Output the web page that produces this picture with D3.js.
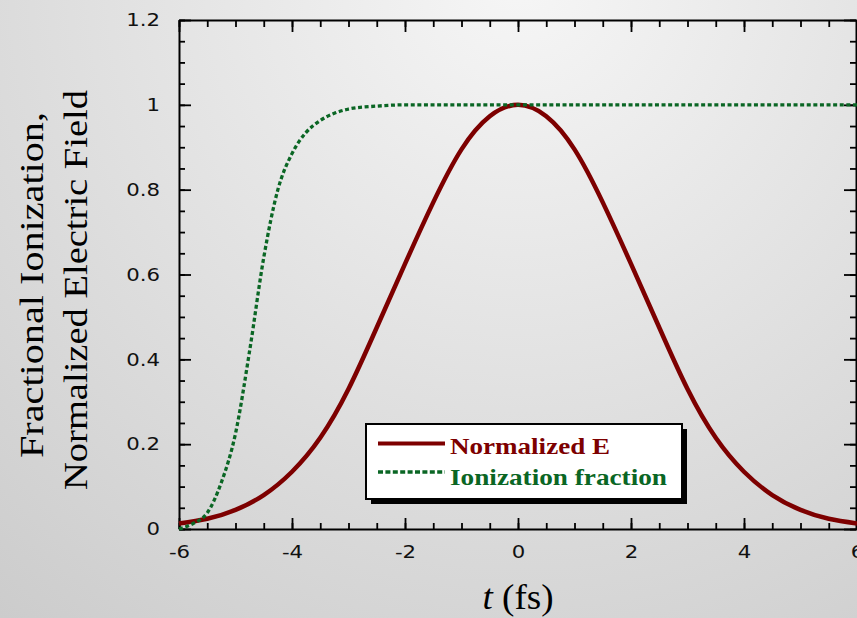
<!DOCTYPE html>
<html>
<head>
<meta charset="utf-8">
<script src="https://cdn.jsdelivr.net/npm/d3@7"></script>
<style>
  html, body { margin: 0; padding: 0; overflow: hidden; }
  svg { display: block; }
</style>
</head>
<body>
<div id="chart"></div>
<script>
// values
const timeE = [-6, -5.5, -5, -4.5, -4, -3.5, -3, -2.5, -2, -1.5, -1, -0.5, 0,
               0.5, 1, 1.5, 2, 2.5, 3, 3.5, 4, 4.5, 5, 5.5, 6];
const fieldE = [0.013, 0.024, 0.045, 0.08, 0.135, 0.215, 0.33, 0.475, 0.625, 0.77, 0.895, 0.973, 1.0,
                0.973, 0.895, 0.77, 0.625, 0.475, 0.33, 0.215, 0.135, 0.08, 0.045, 0.024, 0.013];

const timeIon = [-6, -5.75, -5.5, -5.25, -5, -4.75, -4.5, -4.25, -4, -3.75, -3.5, -3.25, -3,
                 -2.5, -2, -1, 0, 1, 2, 3, 4, 5, 6];
const ionFrac = [0.0, 0.013, 0.038, 0.11, 0.225, 0.42, 0.64, 0.80, 0.885, 0.935, 0.963, 0.98, 0.99,
                 0.997, 1.0, 1.0, 1.0, 1.0, 1.0, 1.0, 1.0, 1.0, 1.0];

const xTicks = [-6, -4, -2, 0, 2, 4, 6];
const yTicks = [0, 0.2, 0.4, 0.6, 0.8, 1, 1.2];
const legendLabels = ["Normalized E", "Ionization fraction"];

const RED = "#7d0000";
const GREEN = "#0a6624";

const W = 857, H = 618;

const svg = d3.select("#chart").append("svg")
    .attr("width", W)
    .attr("height", H);

// background
const defs = svg.append("defs");
const grad = defs.append("radialGradient")
    .attr("id", "bg")
    .attr("gradientUnits", "userSpaceOnUse")
    .attr("cx", 520).attr("cy", -20).attr("r", 900);
grad.append("stop").attr("offset", "0%").attr("stop-color", "#f6f6f6");
grad.append("stop").attr("offset", "100%").attr("stop-color", "#c8c8c8");
svg.append("rect").attr("width", W).attr("height", H).attr("fill", "url(#bg)");

const x = d3.scaleLinear().domain([-6, 6]).range([179, 857]);
const y = d3.scaleLinear().domain([0, 1.2]).range([529, 20]);

const xMinor = d3.range(-6, 6.01, 0.5);
const yMinor = d3.range(0, 1.201, 0.05);

function styleAxis(g) {
    g.select(".domain").attr("stroke", "#000").attr("stroke-width", 2);
    g.selectAll(".tick line").attr("stroke", "#000").attr("stroke-width", 1.8);
    g.selectAll(".tick text")
        .attr("fill", "#111")
        .style("font-family", "'DejaVu Sans', sans-serif")
        .style("font-size", "18px")
        .attr("transform", "scale(1.18,1)");
}
function minorOnly(g) {
    g.select(".domain").remove();
    g.selectAll(".tick line").attr("stroke", "#000").attr("stroke-width", 1.8);
}

// bottom axis
svg.append("g").attr("transform", `translate(0,${y(0)})`)
    .call(d3.axisBottom(x).tickValues(xMinor).tickSizeInner(-6).tickSizeOuter(0).tickFormat(""))
    .call(minorOnly);
svg.append("g").attr("transform", `translate(0,${y(0)})`)
    .call(d3.axisBottom(x).tickValues(xTicks).tickSizeInner(-11).tickSizeOuter(0)
        .tickPadding(16).tickFormat(d => String(d)))
    .call(styleAxis);

// top axis
svg.append("g").attr("transform", `translate(0,${y(1.2)})`)
    .call(d3.axisTop(x).tickValues(xMinor).tickSizeInner(-7).tickSizeOuter(0).tickFormat(""))
    .call(minorOnly);
svg.append("g").attr("transform", `translate(0,${y(1.2)})`)
    .call(d3.axisTop(x).tickValues(xTicks).tickSizeInner(-12).tickSizeOuter(0).tickFormat(""))
    .call(styleAxis);

// left axis
svg.append("g").attr("transform", `translate(${x(-6)},0)`)
    .call(d3.axisLeft(y).tickValues(yMinor).tickSizeInner(-6).tickSizeOuter(0).tickFormat(""))
    .call(minorOnly);
svg.append("g").attr("transform", `translate(${x(-6)},0)`)
    .call(d3.axisLeft(y).tickValues(yTicks).tickSizeInner(-12).tickSizeOuter(0)
        .tickPadding(16).tickFormat(d => String(d)))
    .call(styleAxis);

// right axis
svg.append("g").attr("transform", `translate(${x(6) - 1},0)`)
    .call(d3.axisLeft(y).tickValues(yMinor).tickSizeInner(6).tickSizeOuter(0).tickFormat(""))
    .call(minorOnly);
svg.append("g").attr("transform", `translate(${x(6) - 1},0)`)
    .call(d3.axisLeft(y).tickValues(yTicks).tickSizeInner(12).tickSizeOuter(0).tickFormat(""))
    .call(styleAxis);

// curves
const smoothLine = d3.line().x(d => x(d[0])).y(d => y(d[1])).curve(d3.curveNatural);
const stepLine = d3.line().x(d => x(d[0])).y(d => y(d[1])).curve(d3.curveMonotoneX);

svg.append("path")
    .datum(timeE.map((t, i) => [t, fieldE[i]]))
    .attr("fill", "none")
    .attr("stroke", RED)
    .attr("stroke-width", 4.5)
    .attr("d", smoothLine);

svg.append("path")
    .datum(timeIon.map((t, i) => [t, ionFrac[i]]))
    .attr("fill", "none")
    .attr("stroke", GREEN)
    .attr("stroke-width", 3.3)
    .attr("stroke-dasharray", "4,2.6")
    .attr("d", stepLine);

// axis titles
const serif = "'Liberation Serif', 'Times New Roman', serif";
svg.append("text")
    .attr("transform", "translate(43,285) rotate(-90)")
    .attr("text-anchor", "middle")
    .attr("textLength", 346).attr("lengthAdjust", "spacingAndGlyphs")
    .style("font-family", serif).style("font-size", "34px")
    .text("Fractional Ionization,");
svg.append("text")
    .attr("transform", "translate(87,290) rotate(-90)")
    .attr("text-anchor", "middle")
    .attr("textLength", 400).attr("lengthAdjust", "spacingAndGlyphs")
    .style("font-family", serif).style("font-size", "34px")
    .text("Normalized Electric Field");

const xt = svg.append("text")
    .attr("x", x(0)).attr("y", 609)
    .attr("text-anchor", "middle")
    .attr("textLength", 71).attr("lengthAdjust", "spacingAndGlyphs")
    .style("font-family", serif).style("font-size", "35px");
xt.append("tspan").style("font-style", "italic").text("t");
xt.append("tspan").text(" (fs)");

// legend
const lg = svg.append("g");
lg.append("rect").attr("x", 371).attr("y", 429).attr("width", 316).attr("height", 75).attr("fill", "#000");
lg.append("rect").attr("x", 366).attr("y", 424).attr("width", 316).attr("height", 75)
    .attr("fill", "#fff").attr("stroke", "#000").attr("stroke-width", 2);

const legendColors = [RED, GREEN];
const legendDash = [null, "5,2.4"];
const legendWidth = [4, 3.3];
const legendLen = [160, 217];
const rowLine = [443.5, 472];
const rowBase = [454, 485];
legendLabels.forEach((lab, i) => {
    lg.append("line")
        .attr("x1", 378).attr("x2", 445)
        .attr("y1", rowLine[i]).attr("y2", rowLine[i])
        .attr("stroke", legendColors[i])
        .attr("stroke-width", legendWidth[i])
        .attr("stroke-dasharray", legendDash[i]);
    lg.append("text")
        .attr("x", 450).attr("y", rowBase[i])
        .attr("fill", legendColors[i])
        .attr("textLength", legendLen[i]).attr("lengthAdjust", "spacingAndGlyphs")
        .style("font-family", serif).style("font-weight", "bold").style("font-size", "24px")
        .text(lab);
});
</script>
</body>
</html>
